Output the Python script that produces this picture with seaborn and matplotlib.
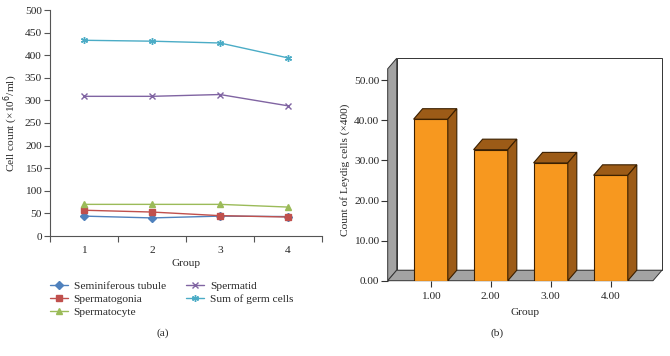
import matplotlib
matplotlib.use("Agg")
import matplotlib.pyplot as plt
import seaborn as sns
import pandas as pd
from matplotlib.patches import Polygon

sns.set_theme(style="white")
plt.rcParams['font.family'] = ['Liberation Serif', 'DejaVu Serif']

# ---- data (a) ----
groups = [1, 2, 3, 4]
seminiferous = [44, 40, 44, 43]
spermatogonia = [57, 53, 45, 42]
spermatocyte = [70, 70, 70, 64]
spermatid = [309, 309, 313, 288]
sum_germ = [433, 431, 427, 394]
series_names = ["Seminiferous tubule", "Spermatogonia", "Spermatocyte",
                "Spermatid", "Sum of germ cells"]
series_vals = [seminiferous, spermatogonia, spermatocyte, spermatid, sum_germ]
series_colors = ["#4F81BD", "#C0504D", "#9BBB59", "#8064A2", "#4BACC6"]
series_markers = ["D", "s", "^", "x", (6, 2, 0)]

# ---- data (b) ----
bar_groups = [1.0, 2.0, 3.0, 4.0]
leydig = [40.3, 32.7, 29.4, 26.3]

FS = 8.2
W, H = 670, 356
fig = plt.figure(figsize=(6.7, 3.56), dpi=100)

def frac(l, t, r, b):
    return [l / W, 1 - b / H, (r - l) / W, (b - t) / H]

# ===== panel (a) =====
ax = fig.add_axes(frac(50, 10, 322, 236))
rows = []
for n, v in zip(series_names, series_vals):
    for g, val in zip(groups, v):
        rows.append({"Group": g, "Value": val, "Series": n})
df = pd.DataFrame(rows)
for n, c, m in zip(series_names, series_colors, series_markers):
    sub = df[df.Series == n]
    ms = 4 if m in ("D",) else 5
    sns.lineplot(data=sub, x="Group", y="Value", ax=ax, color=c, marker=m,
                 markersize=ms, markeredgecolor=c, markeredgewidth=1.0,
                 linewidth=1.0, label=n, legend=False)
ax.set_xlim(0.5, 4.5)
ax.set_ylim(0, 500)
ax.set_yticks(range(0, 501, 50))
ax.set_xticks([0.5, 1.5, 2.5, 3.5, 4.5])
ax.set_xticklabels([])
ax.set_xticks(groups, minor=True)
ax.set_xticklabels([str(g) for g in groups], minor=True)
ax.tick_params(axis='x', which='minor', length=0, labelsize=FS, pad=7)
ax.tick_params(axis='x', which='major', length=4, width=0.8, color='#555555', direction='out')
ax.tick_params(axis='y', length=4, width=0.8, color='#555555', direction='out', labelsize=FS, pad=2)
ax.tick_params(bottom=True, left=True)
for s in ["top", "right"]:
    ax.spines[s].set_visible(False)
for s in ["left", "bottom"]:
    ax.spines[s].set_color("#555555")
    ax.spines[s].set_linewidth(0.8)
ax.set_xlabel("Group", fontsize=FS, labelpad=3)
ax.set_ylabel("Cell count (×10$^6$/ml)", fontsize=FS, labelpad=3)
handles, labels = ax.get_legend_handles_labels()
fig.legend(handles, labels,
           loc="upper left", bbox_to_anchor=(44 / W, 1 - 275 / H), ncol=2,
           fontsize=FS, frameon=False, handlelength=1.6, handletextpad=0.5,
           columnspacing=1.8, labelspacing=0.3, borderpad=0)
fig.text(163 / W, 1 - 333 / H, "(a)", ha="center", va="center", fontsize=FS)

# ===== panel (b) =====
L, T, R, B = 387.7, 58.3, 662, 280.7
bx = fig.add_axes(frac(L, T, R, B))
px_per_x = 60.0
x0 = 1 - (430.7 - L) / px_per_x
x1 = x0 + (R - L) / px_per_x
ytop = 55.5
bx.set_xlim(x0, x1)
bx.set_ylim(0, ytop)
dx = 9.0 / px_per_x
dy = 10.5 / ((B - T) / ytop)

# walls
left_wall = Polygon([(x0, 0), (x0 + dx, dy), (x0 + dx, ytop), (x0, ytop - dy)],
                    closed=True, facecolor="#A3A3A3", edgecolor="#333333", lw=0.7, clip_on=False, zorder=1)
floor = Polygon([(x0, 0), (x0 + dx, dy), (x1, dy), (x1 - dx, 0)],
                closed=True, facecolor="#A3A3A3", edgecolor="#333333", lw=0.7, clip_on=False, zorder=1)
back = Polygon([(x0 + dx, dy), (x1, dy), (x1, ytop), (x0 + dx, ytop)],
               closed=True, facecolor="white", edgecolor="#333333", lw=0.7, clip_on=False, zorder=0.5)
for p in (back, left_wall, floor):
    bx.add_patch(p)

bdf = pd.DataFrame({"Group": bar_groups, "Count": leydig})
sns.barplot(data=bdf, x="Group", y="Count", ax=bx, native_scale=True, width=0.57,
            color="#F7981F", saturation=1, edgecolor="#3a1f00", linewidth=0.8, zorder=3)
for p in list(bx.patches):
    if isinstance(p, Polygon):
        continue
    xl, w, h = p.get_x(), p.get_width(), p.get_height()
    xr = xl + w
    top = Polygon([(xl, h), (xl + dx, h + dy), (xr + dx, h + dy), (xr, h)], closed=True,
                  facecolor="#9C5B17", edgecolor="#3a1f00", lw=0.8, zorder=3, clip_on=False)
    side = Polygon([(xr, 0), (xr + dx, dy), (xr + dx, h + dy), (xr, h)], closed=True,
                   facecolor="#9C5B17", edgecolor="#3a1f00", lw=0.8, zorder=3, clip_on=False)
    bx.add_patch(top)
    bx.add_patch(side)

for s in bx.spines.values():
    s.set_visible(False)
bx.set_yticks(range(0, 51, 10))
bx.set_yticklabels([f"{v:.2f}" for v in range(0, 51, 10)])
bx.set_xticks(bar_groups)
bx.set_xticklabels([f"{g:.2f}" for g in bar_groups])
bx.tick_params(axis='y', left=True, length=5, width=0.8, color="#333333", direction='out', labelsize=FS, pad=1)
bx.tick_params(axis='x', bottom=True, length=4, width=0.8, color="#333333", direction='out', labelsize=FS, pad=4)
bx.set_xlabel("Group", fontsize=FS, labelpad=5)
bx.set_ylabel("Count of Leydig cells (×400)", fontsize=FS, labelpad=3)
fig.text(497 / W, 1 - 333 / H, "(b)", ha="center", va="center", fontsize=FS)

fig.savefig("out.png", dpi=100)
